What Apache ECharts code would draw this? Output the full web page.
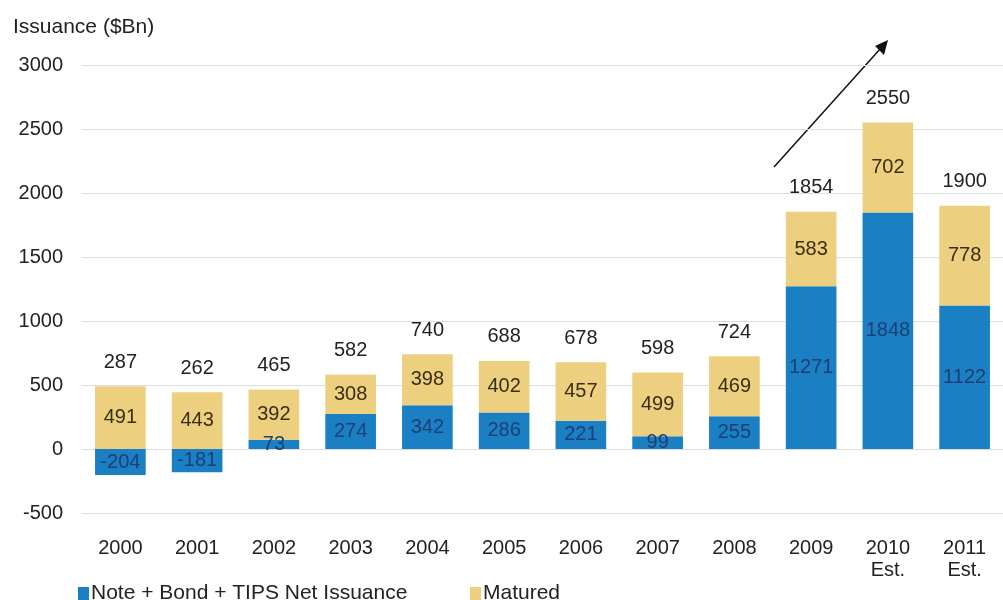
<!DOCTYPE html>
<html><head><meta charset="utf-8">
<script src="https://cdn.jsdelivr.net/npm/echarts@6/dist/echarts.min.js"></script>
<style>html,body{margin:0;padding:0;background:#fff}#c{width:1003px;height:600px}</style>
</head><body><div id="c"></div>
<script>
var categories = ['2000','2001','2002','2003','2004','2005','2006','2007','2008','2009','2010\nEst.','2011\nEst.'];
var netIssuance = [-204, -181, 73, 274, 342, 286, 221, 99, 255, 1271, 1848, 1122];
var matured = [491, 443, 392, 308, 398, 402, 457, 499, 469, 583, 702, 778];
var totals = [287, 262, 465, 582, 740, 688, 678, 598, 724, 1854, 2550, 1900];
var yTicks = [-500, 0, 500, 1000, 1500, 2000, 2500, 3000];

var chart = echarts.init(document.getElementById('c'));
var font = 'Liberation Sans, Arial, sans-serif';
var legendText = {fontSize: 21, color: '#222', padding: [0,0,0,-3]};
chart.setOption({
  animation: false,
  textStyle: {fontFamily: font},
  grid: {left: 82, right: -7, top: 65, bottom: 87, containLabel: false},
  title: {text: 'Issuance ($Bn)', left: 8, top: 12,
    textStyle: {fontSize: 21, fontWeight: 'normal', color: '#222', fontFamily: font}},
  legend: [
    {left: 73, top: 578, itemWidth: 11, itemHeight: 13, icon: 'rect',
     textStyle: legendText, data: ['Note + Bond + TIPS Net Issuance']},
    {left: 465, top: 578, itemWidth: 11, itemHeight: 13, icon: 'rect',
     textStyle: legendText, data: ['Matured']}
  ],
  xAxis: {type: 'category', data: categories,
    axisLine: {show: false}, axisTick: {show: false},
    axisLabel: {fontSize: 20, color: '#222', margin: 24, lineHeight: 22, verticalAlign: 'top'}},
  yAxis: {type: 'value', min: yTicks[0], max: yTicks[yTicks.length-1], interval: 500,
    axisLine: {show: false}, axisTick: {show: false},
    axisLabel: {fontSize: 20, color: '#222', margin: 19, formatter: function(v){ return String(v); }},
    splitLine: {lineStyle: {color: '#dedede', width: 1}}},
  series: [
    {name: 'Note + Bond + TIPS Net Issuance', type: 'bar', stack: 'a', data: netIssuance,
     barWidth: '66%', itemStyle: {color: '#1b7fc4'},
     label: {show: true, position: 'inside', fontSize: 20, color: '#1d3f74'}},
    {name: 'Matured', type: 'bar', stack: 'a', data: matured,
     barWidth: '66%', itemStyle: {color: '#ecd07f'},
     label: {show: true, position: 'inside', fontSize: 20, color: '#3a2e12'}},
    {name: 'Total', type: 'bar', stack: 'a', data: totals.map(function(){return 0;}),
     barWidth: '66%', itemStyle: {color: 'transparent'}, silent: true,
     label: {show: true, position: 'top', distance: 14, fontSize: 20, color: '#222',
       formatter: function(p){ return totals[p.dataIndex]; }}}
  ],
  graphic: [
    {type: 'line', shape: {x1: 774, y1: 167, x2: 881, y2: 48},
     style: {stroke: '#111', lineWidth: 1.5}},
    {type: 'polygon', shape: {points: [[888, 40], [875, 46], [884, 55]]},
     style: {fill: '#111'}}
  ]
});
</script></body></html>
